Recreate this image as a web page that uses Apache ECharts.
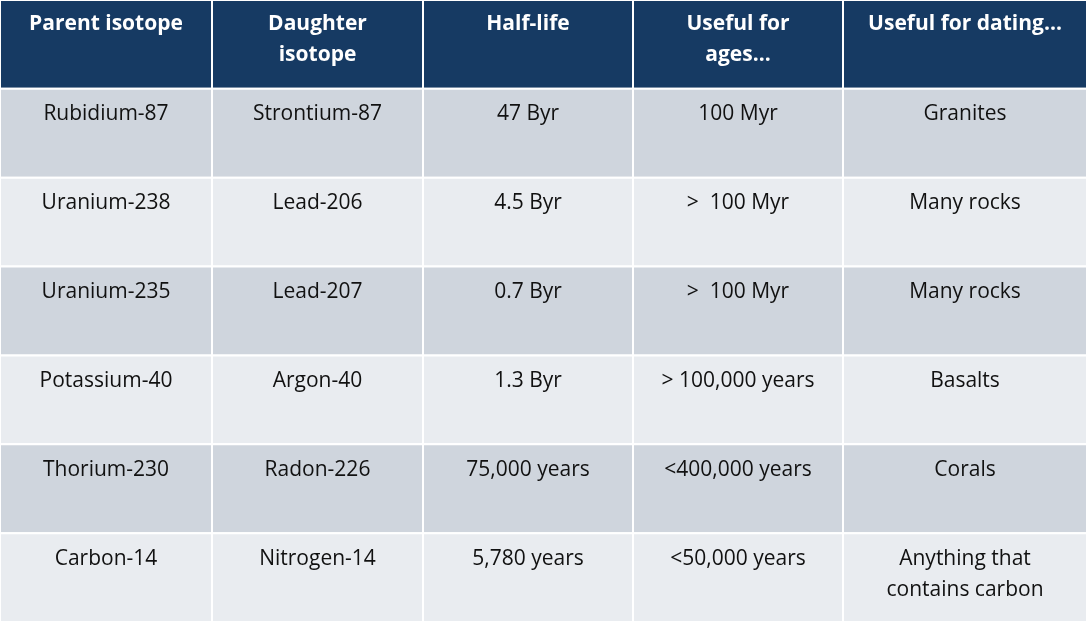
<!DOCTYPE html>
<html><head><meta charset="utf-8">
<script src="https://cdn.jsdelivr.net/npm/echarts@6/dist/echarts.min.js"></script>
<style>html,body{margin:0;padding:0;background:#fff}#c{width:1087px;height:622px}</style>
</head><body><div id="c"></div>
<script>
const headers = ["Parent isotope", "Daughter\nisotope", "Half-life", "Useful for\nages...", "Useful for dating..."];
const parent = ["Rubidium-87", "Uranium-238", "Uranium-235", "Potassium-40", "Thorium-230", "Carbon-14"];
const daughter = ["Strontium-87", "Lead-206", "Lead-207", "Argon-40", "Radon-226", "Nitrogen-14"];
const halfLife = ["47 Byr", "4.5 Byr", "0.7 Byr", "1.3 Byr", "75,000 years", "5,780 years"];
const usefulAges = ["100 Myr", ">  100 Myr", ">  100 Myr", "> 100,000 years", "<400,000 years", "<50,000 years"];
const usefulDating = ["Granites", "Many rocks", "Many rocks", "Basalts", "Corals", "Anything that\ncontains carbon"];
const colEdges = [0, 212, 423, 633, 843, 1087];

const columns = [parent, daughter, halfLife, usefulAges, usefulDating];
const data = [];
headers.forEach((h, c) => data.push([colEdges[c], colEdges[c + 1], 0, h, 1]));
for (let r = 0; r < parent.length; r++)
  columns.forEach((col, c) => data.push([colEdges[c], colEdges[c + 1], r + 1, col[r], 0]));

const chart = echarts.init(document.getElementById('c'));
chart.setOption({
  animation: false,
  grid: {left: 0, right: 0, top: 0, bottom: 0},
  xAxis: {type: 'value', min: 0, max: 1087, show: false},
  yAxis: {type: 'value', min: 0, max: 7, inverse: true, show: false},
  series: [{
    type: 'custom',
    data: data,
    renderItem: function (params, api) {
      const x0 = api.value(0), x1 = api.value(1), r = api.value(2), hdr = api.value(4);
      const p0 = api.coord([x0, r]), p1 = api.coord([x1, r + 1]);
      const fill = hdr ? '#163a63' : (r % 2 === 1 ? '#cfd5dd' : '#e9ecf0');
      const txt = data[params.dataIndex][3];
      return {
        type: 'group',
        children: [
          {type: 'rect', shape: {x: p0[0], y: p0[1], width: p1[0] - p0[0], height: p1[1] - p0[1]},
           style: {fill: fill, stroke: '#ffffff', lineWidth: 2}},
          {type: 'text', x: (p0[0] + p1[0]) / 2, y: p0[1] + (hdr ? 9 : 10),
           style: {text: txt, fill: hdr ? '#ffffff' : '#111111', align: 'center', verticalAlign: 'top',
                   font: (hdr ? 'bold ' : '') + '21px "Open Sans", sans-serif', lineHeight: 31}}
        ]
      };
    }
  }]
});
</script></body></html>
